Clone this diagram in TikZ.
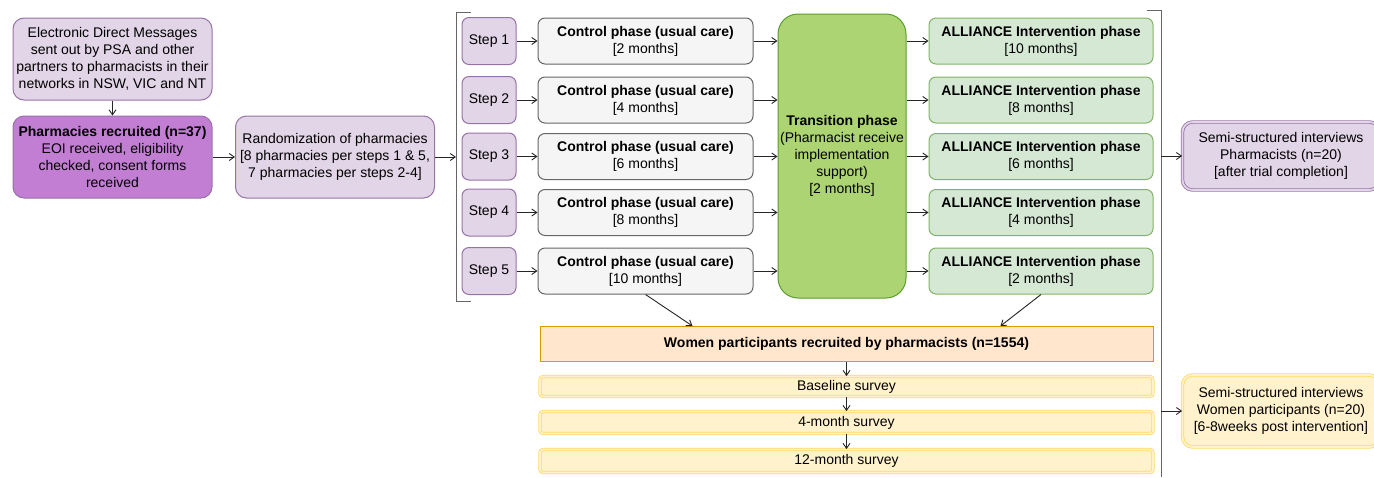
\documentclass[tikz,border=0pt]{standalone}
\usepackage{fontspec}
\setmainfont{Liberation Sans}
\usetikzlibrary{arrows.meta,positioning}
\definecolor{lilac}{HTML}{E1D5E7}
\definecolor{plum}{HTML}{9673A6}
\definecolor{orchid}{HTML}{C27ED3}
\definecolor{greyfill}{HTML}{F5F5F5}
\definecolor{greyline}{HTML}{666666}
\definecolor{leaf}{HTML}{ADD473}
\definecolor{leafline}{HTML}{5A9E2C}
\definecolor{mint}{HTML}{D5E8D4}
\definecolor{mintline}{HTML}{82B366}
\definecolor{peach}{HTML}{FFE6CC}
\definecolor{amber}{HTML}{D79B00}
\definecolor{cream}{HTML}{FFF2CC}
\definecolor{butter}{HTML}{FFD966}
\tikzset{box/.style={draw,line width=1pt,rounded corners=7pt,align=center,inner sep=0pt,
 font=\fontsize{14}{17}\selectfont},
 purplebox/.style={box,draw=plum,fill=lilac,minimum width=199pt,minimum height=82pt,rounded corners=11pt},
 stepbox/.style={box,draw=plum,fill=lilac,minimum width=54pt,minimum height=47pt},
 ctrlbox/.style={box,draw=greyline,fill=greyfill,minimum width=215pt,minimum height=46pt},
 transbox/.style={box,draw=leafline,fill=leaf,minimum width=128pt,minimum height=284pt,rounded corners=20pt},
 intbox/.style={box,draw=mintline,fill=mint,minimum width=224pt,minimum height=46pt},
 womenbox/.style={box,draw=amber,fill=peach,rounded corners=0pt,minimum width=613pt,minimum height=35pt},
 surveybox/.style={box,draw=butter,fill=cream,double=cream,double distance=1.6pt,line width=0.8pt,
  rounded corners=3pt,minimum width=613pt},
 interview/.style={box,double distance=1.8pt,line width=0.8pt,minimum width=197pt,rounded corners=10pt},
 bracket/.style={draw=greyline,line width=1pt},
 arr/.style={-{Straight Barb[length=5pt,width=7pt]},line width=0.9pt,draw=black!85}}

\begin{document}
\begin{tikzpicture}[x=1pt,y=-1pt]
\useasboundingbox (0,0) rectangle (1374,477);
\node[purplebox] (emails) at (112.5,59) {Electronic Direct Messages\\sent out by PSA and other\\partners to pharmacists in their\\networks in NSW, VIC and NT};
\node[purplebox,fill=orchid] (recruit) at (112.5,157) {\textbf{Pharmacies recruited (n=37)}\\EOI received, eligibility\\checked, consent forms\\received};
\node[purplebox] (rand) at (335,157) {Randomization of pharmacies\\{}[8 pharmacies per steps 1 \& 5,\\7 pharmacies per steps 2-4]};
\draw[arr] (emails) -- (recruit);
\draw[arr] (recruit) -- (rand);
\coordinate (lbr) at (456,157);
\draw[arr] (rand) -- (lbr);
\draw[bracket] (471,12) -- (456,12) -- (456,301) -- (471,301);
\node[transbox] (trans) at (842,156) {\textbf{Transition phase}\\(Pharmacist receive\\implementation\\support)\\{}[2 months]};
\foreach \i/\y/\cm/\im in {1/41/2/10,2/100/4/8,3/156.5/6/6,4/212.5/8/4,5/271/10/2}{
 \node[stepbox] (step\i) at (489,\y) {Step \i};
 \node[ctrlbox] (ctrl\i) at (645.5,\y) {\textbf{Control phase (usual care)}\\{}[\cm{} months]};
 \node[intbox] (int\i) at (1041,\y) {\textbf{ALLIANCE Intervention phase}\\{}[\im{} months]};
 \draw[arr] (step\i) -- (ctrl\i);
 \draw[arr] (ctrl\i) -- (ctrl\i -| trans.west);
 \draw[arr] (trans.east |- int\i) -- (int\i);
}
\draw[bracket] (1147,10) -- (1161,10) -- (1161,477);
\node[womenbox] (women) at (846.5,344) {\textbf{Women participants recruited by pharmacists (n=1554)}};
\draw[arr] (ctrl5.south) -- ([xshift=-154pt]women.north);
\draw[arr] (int5.south) -- ([xshift=154pt]women.north);
\node[surveybox,minimum height=20pt] (base) at (846.5,386.5) {Baseline survey};
\node[surveybox,minimum height=22pt] (fourm) at (846.5,422.5) {4-month survey};
\node[surveybox,minimum height=23pt] (twelvem) at (846.5,461) {12-month survey};
\draw[arr] (women) -- (base);
\draw[arr] (base) -- (fourm);
\draw[arr] (fourm) -- (twelvem);
\node[interview,draw=plum,fill=lilac,double=lilac,minimum height=68pt] (pharmint) at (1281,156) {Semi-structured interviews\\Pharmacists (n=20)\\{}[after trial completion]};
\node[interview,draw=butter,fill=cream,double=cream,minimum height=72pt] (womenint) at (1281,411) {Semi-structured interviews\\Women participants (n=20)\\{}[6-8weeks post intervention]};
\coordinate (rbr) at (1161,156);
\coordinate (rbrb) at (1161,411);
\draw[arr] (rbr) -- (pharmint);
\draw[arr] (rbrb) -- (womenint);
\end{tikzpicture}
\end{document}
